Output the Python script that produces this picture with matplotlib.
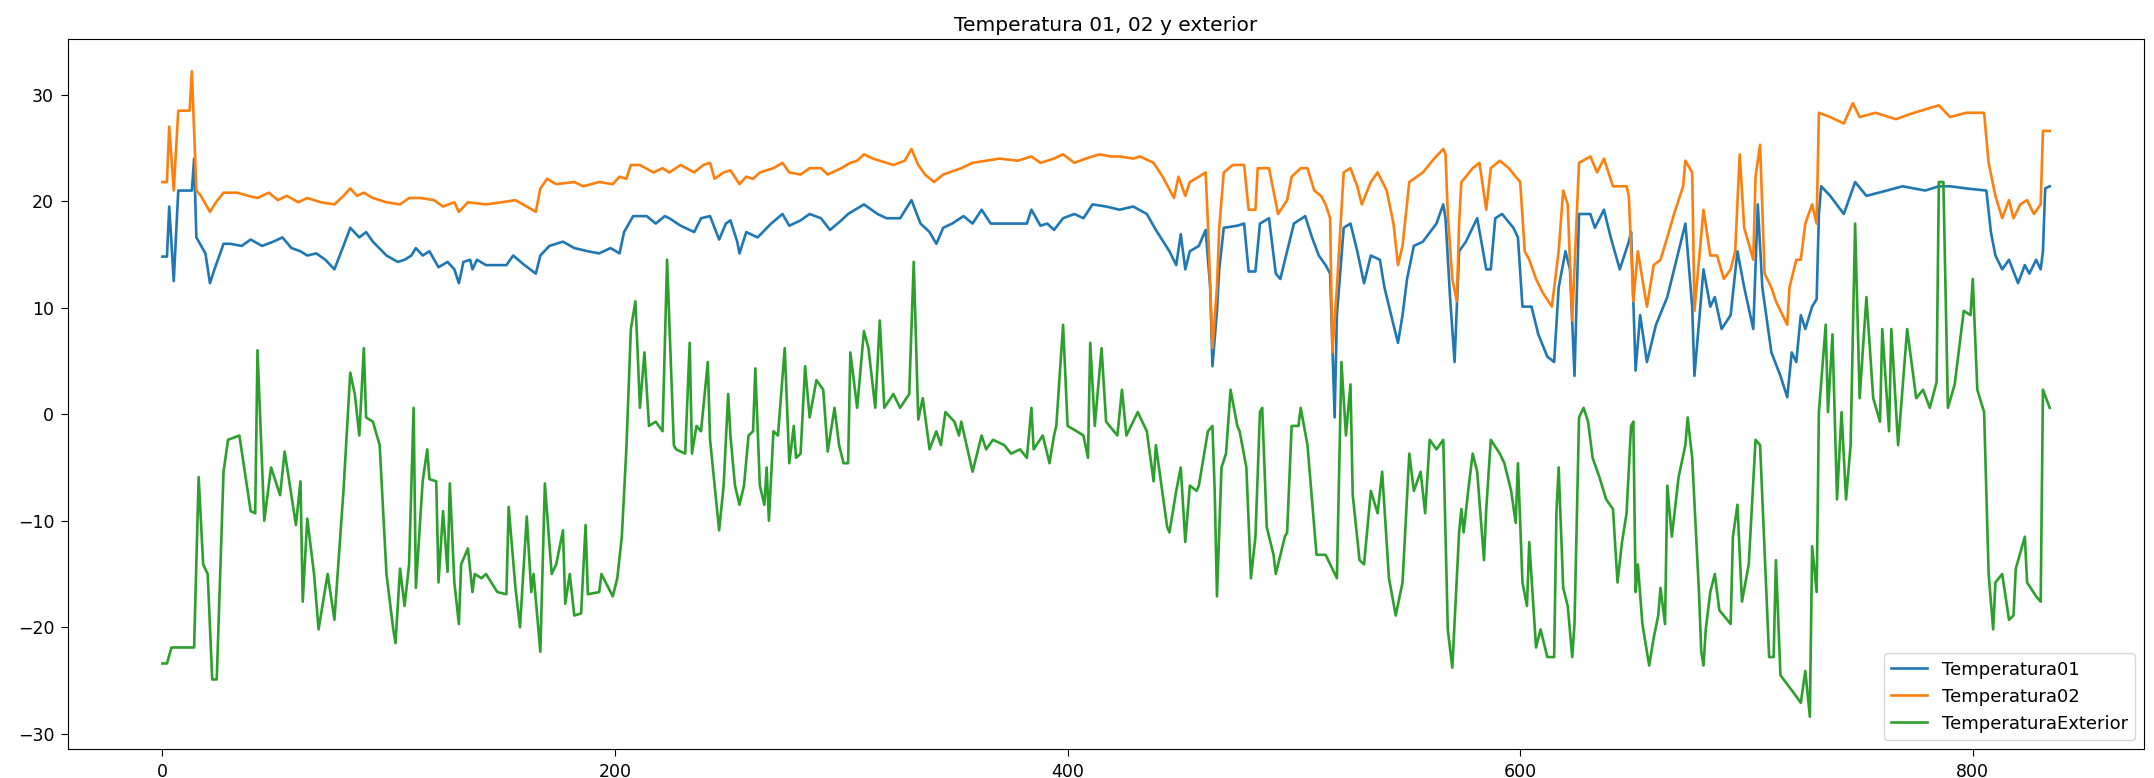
import matplotlib
matplotlib.use("Agg")
import matplotlib.pyplot as plt

# valores (indice, temperatura)
t01_x = [0, 2, 3, 5, 7, 13, 14, 15, 19, 21, 23, 27, 30, 35, 39, 44, 49, 53, 57, 61, 64, 68, 72, 76, 80, 83, 87, 90, 93, 99,
         104, 107, 110, 112, 115, 118, 122, 126, 129, 131, 133, 136, 137, 139, 143, 152, 155, 160, 165, 167, 171, 177, 182, 188, 193, 198,
         202, 204, 208, 214, 218, 222, 224, 229, 235, 238, 242, 246, 249, 251, 254, 255, 258, 263, 269, 274, 277, 282, 286, 291, 295,
         300, 303, 310, 316, 320, 326, 331, 335, 339, 342, 345, 349, 354, 358, 362, 366, 373, 382, 384, 388, 391, 394, 398,
         403, 407, 411, 417, 423, 429, 435, 439, 445, 448, 450, 452, 454, 458, 461, 463, 464, 466, 467, 469, 475, 478, 480, 483, 485, 489, 492, 494, 497,
         500, 505, 508, 511, 514, 516, 518, 519, 522, 525, 528, 531, 534, 538, 540, 544, 546, 548, 550, 553, 557, 563, 566, 567, 569, 571, 573, 576, 581, 585, 587, 589, 592, 597, 599,
         601, 605, 608, 612, 615, 617, 620, 622, 624, 626, 631, 633, 637, 640, 644, 648, 649, 650, 651, 653, 656, 660, 665, 670, 673, 676, 677, 681, 684, 686, 689, 693, 696, 699,
         703, 705, 707, 711, 715, 718, 720, 722, 724, 726, 729, 731, 732, 733, 737, 743, 748, 753, 762, 769, 779, 785, 790, 797,
         806, 808, 810, 813, 816, 820, 823, 825, 828, 830, 831, 832, 834]
t01_y = [14.8, 14.8, 19.5, 12.5, 21.0, 21.0, 24.0, 16.6, 15.1, 12.3, 13.6, 16.0, 16.0, 15.8, 16.4, 15.8, 16.2, 16.6, 15.6, 15.3, 14.9, 15.1, 14.5, 13.6, 15.8, 17.5, 16.6, 17.1, 16.2, 14.9,
         14.3, 14.5, 14.9, 15.6, 14.9, 15.3, 13.8, 14.3, 13.6, 12.3, 14.3, 14.5, 13.6, 14.5, 14.0, 14.0, 14.9, 14.0, 13.2, 14.9, 15.8, 16.2, 15.6, 15.3, 15.1, 15.6,
         15.1, 17.1, 18.6, 18.6, 17.9, 18.6, 18.4, 17.7, 17.1, 18.4, 18.6, 16.4, 17.9, 18.2, 16.2, 15.1, 17.1, 16.6, 17.9, 18.8, 17.7, 18.2, 18.8, 18.4, 17.3,
         18.2, 18.8, 19.7, 18.8, 18.4, 18.4, 20.1, 17.9, 17.1, 16.0, 17.5, 17.9, 18.6, 17.9, 19.2, 17.9, 17.9, 17.9, 19.2, 17.7, 17.9, 17.3, 18.4,
         18.8, 18.4, 19.7, 19.5, 19.2, 19.5, 18.8, 17.3, 15.3, 14.0, 16.9, 13.6, 15.3, 15.8, 17.3, 11.9, 4.5, 9.7, 13.6, 17.5, 17.7, 17.9, 13.4, 13.4, 17.9, 18.4, 13.2, 12.7, 15.3,
         17.9, 18.6, 16.6, 14.9, 14.0, 13.2, -0.3, 9.3, 17.5, 17.9, 15.3, 12.3, 14.9, 14.5, 11.9, 8.4, 6.7, 9.3, 12.7, 15.8, 16.2, 17.9, 19.7, 18.4, 11.0, 4.9, 15.3, 16.2, 18.4, 13.6, 13.6, 18.4, 18.8, 17.5, 16.6,
         10.1, 10.1, 7.5, 5.4, 4.9, 11.9, 15.3, 13.6, 3.6, 18.8, 18.8, 17.5, 19.2, 16.6, 13.6, 16.2, 17.1, 10.6, 4.1, 9.3, 4.9, 8.4, 11.0, 15.3, 17.9, 10.1, 3.6, 13.6, 10.1, 11.0, 8.0, 9.3, 15.3, 11.9,
         8.0, 19.7, 11.9, 5.8, 3.6, 1.6, 5.8, 4.9, 9.3, 8.0, 10.1, 10.8, 18.8, 21.4, 20.5, 18.8, 21.8, 20.5, 21.0, 21.4, 21.0, 21.4, 21.4, 21.2,
         21.0, 17.1, 14.9, 13.6, 14.5, 12.3, 14.0, 13.2, 14.5, 13.6, 15.3, 21.2, 21.4]

t02_x = [0, 2, 3, 5, 7, 12, 13, 15, 17, 21, 24, 27, 33, 38, 42, 47, 51, 55, 60, 64, 70, 76, 80, 83, 86, 89, 93, 99,
         105, 109, 114, 120, 124, 129, 131, 135, 143, 150, 156, 161, 165, 167, 170, 174, 182, 186, 193, 199,
         202, 205, 207, 211, 217, 221, 224, 229, 235, 239, 242, 244, 248, 251, 255, 258, 261, 264, 270, 274, 277, 282, 286, 291, 294,
         300, 304, 307, 310, 314, 320, 323, 328, 331, 334, 337, 341, 345, 353, 358, 364, 370, 378, 384, 388, 394, 398,
         403, 408, 414, 419, 423, 429, 432, 438, 442, 447, 449, 452, 454, 458, 461, 462, 464, 466, 467, 469, 473, 478, 480, 483, 484, 489, 493, 497, 499,
         503, 506, 509, 512, 514, 516, 517, 519, 522, 525, 528, 530, 534, 537, 541, 544, 546, 548, 551, 557, 562, 566, 567, 568, 570, 572, 573, 574, 576, 579, 582, 585, 587, 591, 595, 598, 600,
         602, 604, 607, 610, 614, 617, 619, 621, 623, 626, 631, 634, 637, 641, 647, 648, 650, 652, 656, 659, 662, 665, 668, 672, 673, 676, 677, 679, 681, 684, 687, 690, 693, 695, 697, 699,
         703, 704, 706, 708, 711, 713, 718, 719, 722, 724, 726, 729, 731, 732, 737, 743, 747, 750, 757, 766, 774, 785, 790, 797,
         805, 807, 810, 813, 816, 818, 821, 824, 827, 830, 831, 834]
t02_y = [21.8, 21.8, 27.0, 21.0, 28.5, 28.5, 32.2, 21.0, 20.5, 19.0, 20.0, 20.8, 20.8, 20.5, 20.3, 20.8, 20.1, 20.5, 19.9, 20.3, 19.9, 19.7, 20.5, 21.2, 20.5, 20.8, 20.3, 19.9,
         19.7, 20.3, 20.3, 20.1, 19.5, 19.9, 19.0, 19.9, 19.7, 19.9, 20.1, 19.5, 19.0, 21.2, 22.1, 21.6, 21.8, 21.4, 21.8, 21.6,
         22.3, 22.1, 23.4, 23.4, 22.7, 23.1, 22.7, 23.4, 22.7, 23.4, 23.6, 22.1, 22.7, 22.9, 21.6, 22.3, 22.1, 22.7, 23.1, 23.6, 22.7, 22.5, 23.1, 23.1, 22.5,
         23.1, 23.6, 23.8, 24.4, 24.0, 23.6, 23.4, 23.8, 24.9, 23.4, 22.5, 21.8, 22.5, 23.1, 23.6, 23.8, 24.0, 23.8, 24.2, 23.6, 24.0, 24.4,
         23.6, 24.0, 24.4, 24.2, 24.2, 24.0, 24.2, 23.6, 22.3, 20.3, 22.3, 20.5, 21.8, 22.3, 22.7, 17.9, 6.2, 11.9, 17.5, 22.7, 23.4, 23.4, 19.2, 19.2, 23.1, 23.1, 18.8, 20.1, 22.3,
         23.1, 23.1, 21.0, 20.5, 19.7, 18.4, 5.8, 11.9, 22.7, 23.1, 21.4, 19.7, 21.8, 22.7, 21.0, 17.9, 14.0, 15.8, 21.8, 22.7, 24.0, 24.9, 24.4, 18.8, 12.7, 10.6, 17.9, 21.8, 22.3, 23.1, 23.6, 19.2, 23.1, 23.8, 23.1, 22.3, 21.8,
         15.3, 14.5, 12.7, 11.4, 10.1, 15.3, 21.0, 19.7, 8.8, 23.6, 24.2, 22.7, 24.0, 21.4, 21.4, 20.5, 10.6, 15.3, 10.1, 14.0, 14.5, 16.6, 18.8, 21.4, 23.8, 22.7, 9.7, 14.5, 19.2, 14.9, 14.9, 12.7, 13.6, 15.3, 24.4, 17.5,
         14.5, 22.3, 25.3, 13.2, 11.9, 10.6, 8.4, 11.9, 14.5, 14.5, 17.9, 19.7, 17.9, 28.3, 27.9, 27.3, 29.2, 27.9, 28.3, 27.7, 28.3, 29.0, 27.9, 28.3,
         28.3, 23.6, 20.5, 18.4, 20.1, 18.4, 19.7, 20.1, 18.8, 19.7, 26.6, 26.6]

ext_x = [0, 2, 4, 14, 16, 18, 20, 22, 24, 27, 29, 34, 39, 41, 42, 45, 48, 52, 54, 59, 61, 62, 64, 67, 69, 73, 76, 80, 83, 85, 87, 89, 90, 93, 96, 99,
         102, 103, 105, 107, 109, 111, 112, 115, 117, 118, 121, 122, 124, 126, 127, 129, 131, 132, 135, 137, 138, 141, 143, 148, 152, 153, 156, 158,
         161, 163, 164, 167, 169, 172, 174, 177, 178, 180, 182, 185, 187, 188, 193, 194, 199, 201, 203, 205, 207, 209, 210, 211, 213, 215, 218, 221, 223,
         226, 227, 231, 233, 234, 236, 238, 241, 242, 246, 248, 250, 251, 253, 255, 257, 259, 261, 262, 264, 266, 267, 268, 270, 272, 275, 277, 279,
         280, 282, 284, 286, 289, 292, 294, 297, 299, 301, 303, 304, 307, 310, 312, 315, 317, 319, 323, 326, 330, 332, 334, 336, 339,
         342, 344, 346, 350, 352, 353, 358, 362, 364, 367, 372, 375, 379, 382, 384, 385, 389, 392, 394, 395, 398,
         400, 404, 407, 409, 410, 412, 415, 417, 422, 424, 426, 431, 435, 438, 439, 444, 445, 448, 450, 452, 454, 457, 458,
         462, 464, 465, 466, 468, 470, 472, 475, 476, 479, 481, 483, 485, 486, 488, 491, 492, 496, 497, 499,
         502, 503, 506, 510, 514, 519, 521, 523, 525, 526, 529, 531, 534, 537, 539, 542, 545, 548, 551, 553, 556, 558, 560, 563, 566, 568,
         570, 573, 574, 575, 577, 579, 581, 584, 585, 587, 591, 593, 596, 598, 599, 601, 603, 604, 607, 609, 612, 615, 616, 617, 619, 621, 623, 624, 626, 628,
         630, 632, 635, 638, 641, 643, 645, 647, 649, 650, 651, 652, 654, 657, 659, 661, 662, 664, 665, 667, 670, 673, 674, 676, 679, 680, 681, 682, 684, 686, 688,
         693, 694, 696, 698, 701, 704, 706, 710, 712, 713, 715, 721, 724, 726, 728, 729, 731, 732, 735, 736, 738, 740, 742, 744, 746, 748,
         750, 753, 756, 759, 760, 763, 764, 767, 771, 775, 778, 781, 784, 785, 787, 789, 792, 796, 799,
         800, 802, 805, 807, 809, 810, 813, 816, 818, 819, 823, 824, 828, 830, 831, 834]
ext_y = [-23.4, -23.4, -21.9, -21.9, -5.9, -14.1, -15.0, -24.9, -24.9, -5.4, -2.4, -2.0, -9.1, -9.3, 6.0, -10.0, -5.0, -7.6, -3.5, -10.4, -6.3, -17.6, -9.8, -15.0, -20.2, -15.0, -19.3, -7.2, 3.9, 1.9, -2.0, 6.2, -0.3, -0.7, -2.9, -15.0,
         -20.2, -21.5, -14.5, -18.0, -14.1, 0.6, -16.3, -6.3, -3.3, -6.1, -6.3, -15.8, -9.1, -14.8, -6.5, -15.8, -19.7, -14.1, -12.6, -16.7, -15.0, -15.4, -15.0, -16.7, -16.9, -8.7, -16.3, -20.0,
         -9.6, -16.7, -15.0, -22.3, -6.5, -15.0, -14.1, -10.9, -17.8, -15.0, -18.9, -18.7, -10.4, -16.9, -16.7, -15.0, -17.1, -15.4, -11.5, -3.3, 8.0, 10.6, 5.8, 0.6, 5.8, -1.1, -0.7, -1.6, 14.5,
         -2.9, -3.3, -3.7, 6.7, -3.7, -1.1, -1.6, 4.9, -2.4, -10.9, -6.7, 1.9, -2.0, -6.7, -8.5, -6.7, -2.0, -1.6, 4.3, -6.7, -8.5, -5.0, -10.0, -1.6, -2.0, 6.2, -4.6, -1.1,
         -4.1, -3.7, 4.5, -0.3, 3.2, 2.3, -3.5, 0.6, -2.9, -4.6, -4.6, 5.8, 0.6, 7.8, 6.2, 0.6, 8.8, 0.6, 1.9, 0.6, 1.9, 14.3, -0.5, 1.5, -3.3,
         -1.6, -2.9, 0.2, -0.7, -2.0, -0.7, -5.4, -2.0, -3.3, -2.4, -2.9, -3.7, -3.3, -4.1, 0.6, -3.3, -2.0, -4.6, -2.0, -1.1, 8.4,
         -1.1, -1.6, -2.0, -4.1, 6.7, -1.1, 6.2, -0.7, -2.0, 2.3, -2.0, 0.2, -1.6, -6.3, -2.9, -10.6, -11.1, -7.2, -5.0, -12.0, -6.7, -7.2, -6.7,
         -1.6, -1.1, -7.2, -17.1, -5.0, -3.7, 2.3, -1.1, -1.6, -5.0, -15.4, -11.5, 0.2, 0.6, -10.6, -13.2, -15.0, -11.5, -11.1, -1.1,
         -1.1, 0.6, -2.9, -13.2, -13.2, -15.4, 4.9, -2.0, 2.8, -7.6, -13.7, -14.1, -7.2, -9.3, -5.4, -15.4, -18.9, -15.8, -3.7, -7.2, -5.4, -9.3, -2.4, -3.3, -2.4, -20.2,
         -23.8, -11.1, -8.9, -11.1, -7.2, -3.7, -5.4, -13.7, -8.9, -2.4, -3.7, -4.6, -7.2, -10.2, -4.6, -15.8, -18.0, -12.0, -21.9, -20.2, -22.8, -22.8, -9.3, -5.0, -16.3, -18.0, -22.8, -19.7, -0.3, 0.6,
         -0.7, -4.1, -5.9, -8.0, -8.9, -15.8, -12.0, -9.3, -1.1, -0.7, -16.7, -14.1, -19.7, -23.6, -21.0, -18.9, -16.3, -19.7, -6.7, -11.5, -5.9, -2.9, -0.3, -4.1, -16.7, -22.3, -23.6, -20.2, -16.7, -15.0, -18.4,
         -19.7, -11.5, -8.5, -17.6, -14.1, -2.4, -2.9, -22.8, -22.8, -13.7, -24.5, -26.2, -27.1, -24.1, -28.4, -12.4, -16.7, 0.2, 8.4, 0.2, 7.5, -8.0, 0.2, -8.0, -2.9, 17.9,
         1.5, 11.0, 1.5, -0.7, 8.0, -1.6, 8.0, -2.9, 8.0, 1.5, 2.3, 0.6, 3.0, 21.8, 21.8, 0.6, 2.8, 9.7, 9.3,
         12.7, 2.3, 0.2, -15.0, -20.2, -15.8, -15.0, -19.3, -18.9, -14.5, -11.5, -15.8, -17.1, -17.6, 2.3, 0.6]

fig = plt.figure(figsize=(21.54, 7.78), dpi=100)
ax = fig.add_axes([0.0316, 0.0373, 0.9638, 0.9126])

ax.plot(t01_x, t01_y, label="Temperatura01", lw=1.9)
ax.plot(t02_x, t02_y, label="Temperatura02", lw=1.9)
ax.plot(ext_x, ext_y, label="TemperaturaExterior", lw=1.9)

ax.set_xticks([0, 200, 400, 600, 800])
ax.set_yticks([-30, -20, -10, 0, 10, 20, 30])
ax.tick_params(labelsize=12.5, length=5, pad=5)
ax.set_title("Temperatura 01, 02 y exterior", fontsize=14.5)
ax.legend(loc="lower right", fontsize=13)

fig.savefig("out.png", dpi=100)
